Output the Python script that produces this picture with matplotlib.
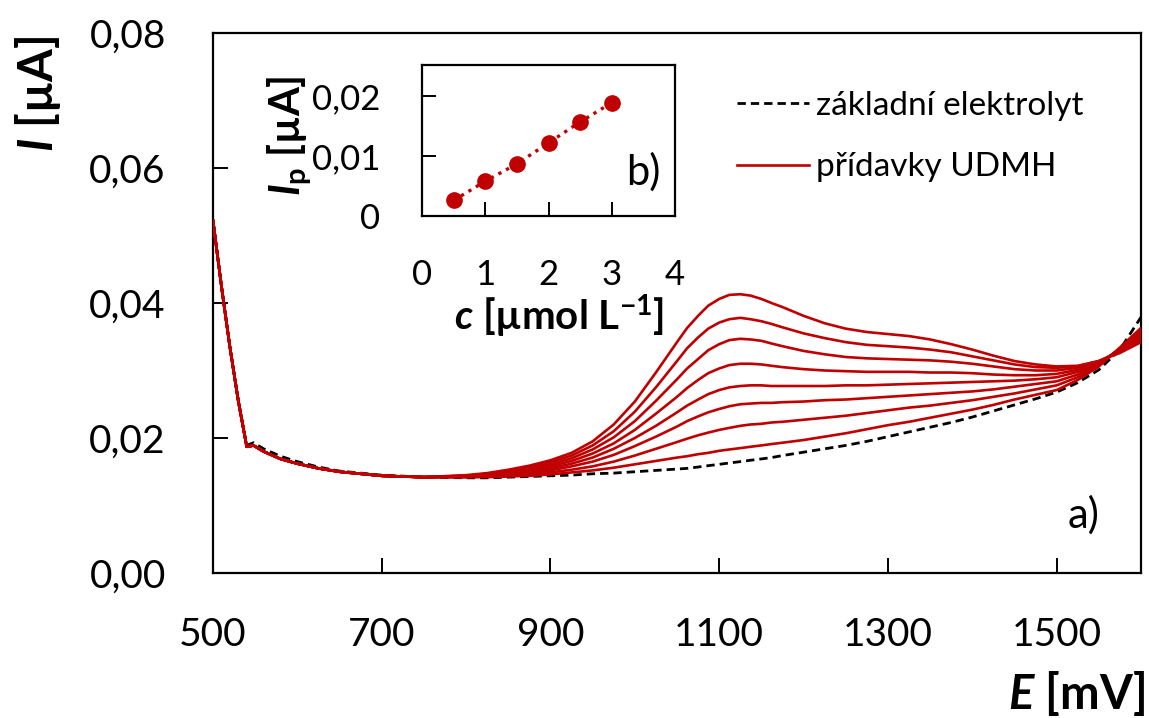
import matplotlib
matplotlib.use('Agg')
import matplotlib.pyplot as plt
from matplotlib.lines import Line2D
from matplotlib.ticker import FuncFormatter

plt.rcParams['font.family'] = ['Lato', 'DejaVu Sans']
plt.rcParams['mathtext.fontset'] = 'custom'
plt.rcParams['mathtext.it'] = 'Lato:italic:bold'
plt.rcParams['mathtext.rm'] = 'Lato:bold'
plt.rcParams['mathtext.bf'] = 'Lato:bold'

RED = '#C00000'

# ---------------- data ----------------
E_start = [500, 510, 520, 530, 540, 548, 560, 580, 600, 625, 650, 700, 750]
E_main = [800, 825, 850, 875, 900, 925, 950, 975, 1000, 1025, 1050, 1062, 1075,
          1087, 1100, 1112, 1125, 1137, 1150, 1162, 1175, 1200, 1225, 1250, 1275,
          1300, 1325, 1350, 1375, 1400, 1425, 1450, 1475, 1500, 1525, 1550, 1575, 1600]

# common part of all UDMH curves (500-750 mV)
start_red = [0.0522, 0.0425, 0.0335, 0.0255, 0.0187, 0.0189, 0.0180, 0.0169,
             0.0162, 0.0155, 0.0150, 0.0144, 0.0142]
start_base = [0.0522, 0.0425, 0.0335, 0.0255, 0.0189, 0.0193, 0.0184, 0.0173,
              0.0165, 0.0157, 0.0151, 0.0145, 0.0142]

# 800 ... 1600 mV
udmh1 = [0.0142, 0.0142, 0.0143, 0.0144, 0.0146, 0.0149, 0.0152, 0.0156, 0.0161, 0.0166, 0.0171,
         0.0173, 0.0176, 0.0178, 0.0181, 0.0183, 0.0185, 0.0187, 0.0189, 0.0191, 0.0193, 0.0197,
         0.0202, 0.0207, 0.0213, 0.0219, 0.0224, 0.0230, 0.0236, 0.0242, 0.0249, 0.0257, 0.0264,
         0.0271, 0.0286, 0.0306, 0.0334, 0.0363]
udmh2 = [0.0142, 0.0143, 0.0144, 0.0146, 0.0149, 0.0153, 0.0158, 0.0165, 0.0174, 0.0184, 0.0194,
         0.0199, 0.0204, 0.0208, 0.0212, 0.0215, 0.0218, 0.0220, 0.0221, 0.0223, 0.0224, 0.0227,
         0.0230, 0.0233, 0.0237, 0.0241, 0.0245, 0.0248, 0.0252, 0.0256, 0.0261, 0.0266, 0.0272,
         0.0278, 0.0290, 0.0308, 0.0333, 0.0360]
udmh3 = [0.0143, 0.0144, 0.0146, 0.0148, 0.0152, 0.0158, 0.0165, 0.0175, 0.0188, 0.0202, 0.0217,
         0.0225, 0.0232, 0.0238, 0.0243, 0.0247, 0.0250, 0.0251, 0.0252, 0.0252, 0.0253, 0.0254,
         0.0256, 0.0257, 0.0259, 0.0261, 0.0263, 0.0265, 0.0267, 0.0269, 0.0272, 0.0276, 0.0280,
         0.0284, 0.0294, 0.0310, 0.0332, 0.0357]
udmh4 = [0.0143, 0.0145, 0.0147, 0.0150, 0.0155, 0.0162, 0.0171, 0.0184, 0.0200, 0.0218, 0.0238,
         0.0248, 0.0257, 0.0265, 0.0271, 0.0275, 0.0277, 0.0278, 0.0278, 0.0277, 0.0277, 0.0277,
         0.0277, 0.0278, 0.0278, 0.0279, 0.0280, 0.0281, 0.0282, 0.0283, 0.0284, 0.0285, 0.0287,
         0.0290, 0.0298, 0.0311, 0.0331, 0.0354]
udmh5 = [0.0143, 0.0145, 0.0148, 0.0152, 0.0158, 0.0166, 0.0177, 0.0192, 0.0212, 0.0236, 0.0261,
         0.0274, 0.0286, 0.0296, 0.0303, 0.0308, 0.0310, 0.0310, 0.0309, 0.0307, 0.0305, 0.0302,
         0.0300, 0.0299, 0.0298, 0.0298, 0.0298, 0.0297, 0.0297, 0.0296, 0.0294, 0.0293, 0.0293,
         0.0295, 0.0301, 0.0312, 0.0330, 0.0351]
udmh6 = [0.0144, 0.0146, 0.0150, 0.0155, 0.0161, 0.0170, 0.0183, 0.0201, 0.0225, 0.0255, 0.0287,
         0.0303, 0.0317, 0.0330, 0.0339, 0.0345, 0.0347, 0.0346, 0.0344, 0.0340, 0.0336, 0.0329,
         0.0324, 0.0320, 0.0318, 0.0317, 0.0316, 0.0315, 0.0313, 0.0310, 0.0306, 0.0302, 0.0300,
         0.0300, 0.0304, 0.0313, 0.0329, 0.0348]
udmh7 = [0.0144, 0.0147, 0.0151, 0.0157, 0.0164, 0.0174, 0.0189, 0.0210, 0.0239, 0.0275, 0.0314,
         0.0333, 0.0349, 0.0362, 0.0371, 0.0376, 0.0378, 0.0376, 0.0373, 0.0369, 0.0364, 0.0355,
         0.0348, 0.0342, 0.0338, 0.0336, 0.0334, 0.0331, 0.0327, 0.0321, 0.0315, 0.0309, 0.0305,
         0.0304, 0.0306, 0.0314, 0.0328, 0.0345]
udmh8 = [0.0145, 0.0148, 0.0153, 0.0159, 0.0167, 0.0178, 0.0195, 0.0220, 0.0254, 0.0297, 0.0342,
         0.0363, 0.0381, 0.0396, 0.0406, 0.0412, 0.0413, 0.0411, 0.0406, 0.0400, 0.0394, 0.0381,
         0.0370, 0.0362, 0.0357, 0.0354, 0.0351, 0.0346, 0.0339, 0.0331, 0.0322, 0.0314, 0.0309,
         0.0306, 0.0307, 0.0314, 0.0326, 0.0342]

baseline = [0.0141, 0.0141, 0.0142, 0.0143, 0.0144, 0.0145, 0.0147, 0.0148, 0.0150, 0.0152, 0.0154,
            0.0155, 0.0157, 0.0159, 0.0161, 0.0163, 0.0165, 0.0167, 0.0169, 0.0171, 0.0174, 0.0179,
            0.0184, 0.0189, 0.0195, 0.0202, 0.0209, 0.0216, 0.0223, 0.0231, 0.0240, 0.0249, 0.0258,
            0.0268, 0.0282, 0.0301, 0.0331, 0.0379]

conc = [0.5, 1.0, 1.5, 2.0, 2.5, 3.0]
ip = [0.0026, 0.0058, 0.0087, 0.0122, 0.0157, 0.0189]

main_yticks = [0.00, 0.02, 0.04, 0.06, 0.08]
main_xticks = [500, 700, 900, 1100, 1300, 1500]
inset_yticks = [0.0, 0.01, 0.02]
inset_xticks = [0, 1, 2, 3, 4]

# ---------------- figure ----------------
W, H = 1149, 718
fig = plt.figure(figsize=(W / 100, H / 100), dpi=100)

def fx(px):
    return px / W

def fy(py):
    return 1 - py / H

ax = fig.add_axes([fx(213), fy(573), fx(1141) - fx(213), fy(33) - fy(573)])

E_all = E_start + E_main
ax.plot(E_all, start_base + baseline, color='black', lw=2.0, ls=(0, (3, 1.8)), zorder=2)
for curve in [udmh1, udmh2, udmh3, udmh4, udmh5, udmh6, udmh7, udmh8]:
    ax.plot(E_all, start_red + curve, color=RED, lw=1.9, zorder=3,
            solid_joinstyle='round')

ax.set_xlim(500, 1600)
ax.set_ylim(0, 0.08)
ax.set_xticks(main_xticks)
ax.set_yticks(main_yticks)
ax.yaxis.set_major_formatter(FuncFormatter(lambda v, p: f'{v:.2f}'.replace('.', ',')))
ax.tick_params(direction='in', length=11, width=1.4, labelsize=28, color='black')
ax.tick_params(axis='y', pad=34)
ax.tick_params(axis='x', pad=32)
for s in ax.spines.values():
    s.set_linewidth(1.6)

fig.text(fx(38), fy(94), r'$I$ [µA]', rotation=90, fontsize=34, fontweight='bold',
         ha='center', va='center')
fig.text(fx(1145), fy(693), r'$E$ [mV]', fontsize=34, fontweight='bold',
         ha='right', va='center')
ax.text(1532, 0.0086, 'a)', fontsize=30, ha='center', va='center')

handles = [Line2D([], [], color='black', lw=2.0, ls=(0, (3, 1.8))),
           Line2D([], [], color=RED, lw=1.9)]
fig.legend(handles, ['základní elektrolyt', 'přídavky UDMH'], loc='upper left',
           bbox_to_anchor=(fx(737), fy(91)), frameon=False, fontsize=24,
           handlelength=2.15, handletextpad=0.22, labelspacing=0.94,
           borderpad=0, borderaxespad=0)

# ---------------- inset ----------------
axi = fig.add_axes([fx(422), fy(216), fx(675) - fx(422), fy(65) - fy(216)])
axi.plot(conc, ip, color=RED, lw=2.4, ls=(0, (1, 1.6)), marker='o', ms=11,
         markerfacecolor=RED, markeredgecolor=RED)
axi.set_xlim(0, 4)
axi.set_ylim(0, 0.0252)
axi.set_xticks(inset_xticks)
axi.set_yticks(inset_yticks)
axi.yaxis.set_major_formatter(FuncFormatter(lambda v, p: '0' if v == 0 else f'{v:.2f}'.replace('.', ',')))
axi.tick_params(direction='in', length=10, width=1.4, labelsize=25)
axi.tick_params(axis='y', pad=30)
axi.tick_params(axis='x', pad=31)
for s in axi.spines.values():
    s.set_linewidth(1.6)
fig.text(fx(290), fy(136), r'$I_{\mathrm{p}}$ [µA]', rotation=90, fontsize=30,
         fontweight='bold', ha='center', va='center')
fig.text(fx(559), fy(316), r'$c$ [µmol L$^{\mathrm{-1}}$]', fontsize=29,
         fontweight='bold', ha='center', va='center')
axi.text(3.5, 0.0073, 'b)', fontsize=30, ha='center', va='center')

fig.savefig('out.png', dpi=100)
